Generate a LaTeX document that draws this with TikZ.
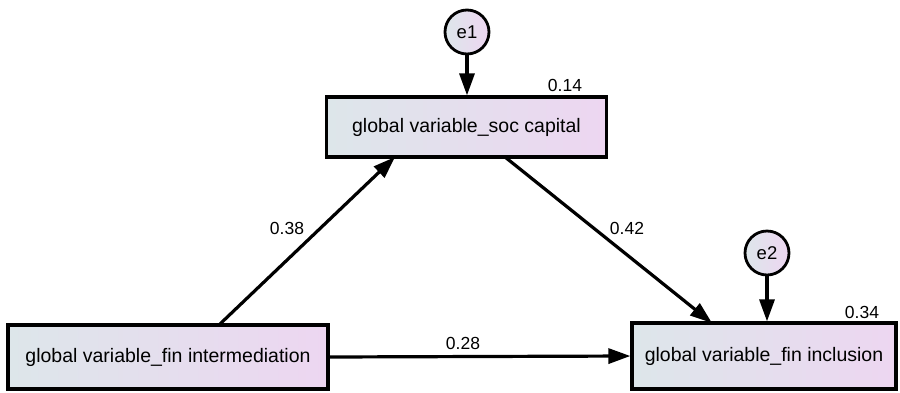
\documentclass[tikz,border=0pt]{standalone}
\usepackage{fontspec}
\setmainfont{Liberation Sans}
\usetikzlibrary{arrows.meta}
\begin{document}
\begin{tikzpicture}[x=1pt,y=-1pt,
  obs/.style={draw=black,line width=3.2pt,left color=gbL,right color=gbR,inner sep=0pt,font=\fontsize{19.5}{22}\selectfont},
  err/.style={circle,draw=black,line width=2.8pt,left color=gbL,right color=gbR,minimum size=44pt,inner sep=0pt,font=\fontsize{18.5}{20}\selectfont},
  path/.style={line width=3.2pt,-{Triangle[length=22pt,width=15pt]}},
  lbl/.style={font=\fontsize{17.5}{19}\selectfont}]
\definecolor{gbL}{HTML}{DDE6EA}
\definecolor{gbR}{HTML}{EDD6F1}
\useasboundingbox (0,0) rectangle (900,392);
\node[obs,minimum width=280pt,minimum height=60pt] (soc) at (466.5,127) {global variable\_soc capital};
\node[obs,minimum width=320pt,minimum height=64pt] (fint) at (168,357) {global variable\_fin intermediation};
\node[obs,minimum width=264pt,minimum height=66pt] (fincl) at (764,356) {global variable\_fin inclusion};
\node[err] (e1) at (467,32) {e1};
\node[err] (e2) at (767,253) {e2};
\draw[path] (e1) -- (e1 |- soc.north);
\draw[path] (e2) -- (e2 |- fincl.north);
\coordinate (a1) at (220,324);
\coordinate (a2) at (395,157);
\coordinate (b1) at (505,157);
\coordinate (b2) at (712,323);
\draw[path] (a1) -- (a2);
\draw[path] (b1) -- (b2);
\draw[path] (fint.east) -- (fincl.west);
\node[lbl] (l14) at (565,85) {0.14};
\node[lbl] (l34) at (862,312) {0.34};
\node[lbl] (l38) at (287,228) {0.38};
\node[lbl] (l42) at (627,228) {0.42};
\node[lbl] (l28) at (463,343) {0.28};
\end{tikzpicture}
\end{document}
